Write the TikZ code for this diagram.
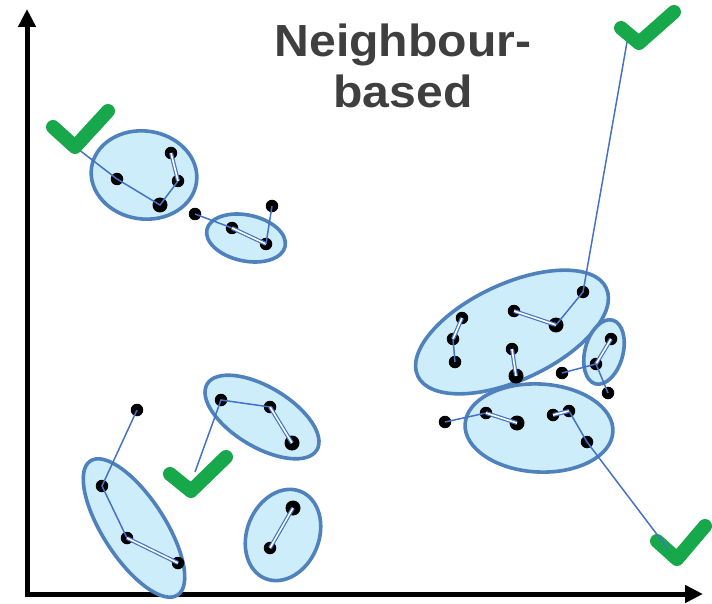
\documentclass[tikz,border=0pt]{standalone}
\usepackage{fontspec}
\setmainfont{Liberation Sans}
\usetikzlibrary{arrows.meta}

\definecolor{clusterfill}{HTML}{CDEDFB}
\definecolor{clusterline}{HTML}{4F81BD}
\definecolor{linkblue}{HTML}{4472C4}
\definecolor{okgreen}{HTML}{16A84A}
\definecolor{titlegray}{HTML}{3F3F3F}

\begin{document}
\begin{tikzpicture}[x=1pt,y=-1pt,
  cluster/.style={draw=clusterline, fill=clusterfill, line width=3.6pt},
  sample/.style={circle, fill=black, inner sep=0pt, minimum size=12.5pt},
  bigsample/.style={sample, minimum size=15pt},
  nbrlink/.style={draw=linkblue, line width=1.5pt},
  pairlink/.style={draw=linkblue, line width=1.2pt, double=white, double distance=1.6pt},
  okmark/.style={draw=okgreen, line width=14pt, line cap=round, line join=round},
  axisline/.style={line width=5pt, line join=miter,
    {Triangle[length=18pt,width=17pt]}-{Triangle[length=18pt,width=17pt]}}]
\useasboundingbox (0,0) rectangle (712,604);

% axes
\coordinate (O) at (27,594);
\coordinate (ytip) at (27,9);
\coordinate (xtip) at (703,594);
\draw[axisline] (ytip) -- (O) -- (xtip);

% title
\node[font=\bfseries\fontsize{45}{51}\selectfont, text=titlegray, align=center,
      xscale=1.07, inner sep=0pt] (title) at (403,66) {Neighbour-\\based};

% clusters
\draw[cluster, rotate around={-8:(144,175)}] (144,175) ellipse [x radius=53pt, y radius=44pt];
\draw[cluster, rotate around={-12:(246,238)}] (246,238) ellipse [x radius=40pt, y radius=23pt];
\draw[cluster, rotate around={25:(512,332)}] (512,332) ellipse [x radius=104pt, y radius=48pt];
\draw[cluster, rotate around={-3:(539,428)}] (539,428) ellipse [x radius=74pt, y radius=44pt];
\draw[cluster, rotate around={-15:(604,352)}] (604,352) ellipse [x radius=19pt, y radius=33pt];
\draw[cluster, rotate around={-57:(134,528)}] (134,528) ellipse [x radius=80pt, y radius=31pt];
\draw[cluster, rotate around={-31:(262,417)}] (262,417) ellipse [x radius=64pt, y radius=30pt];
\draw[cluster, rotate around={-22:(283,535)}] (283,535) ellipse [x radius=36pt, y radius=47pt];

% samples
\node[sample] (A) at (117,179) {};
\node[bigsample] (B) at (160,205) {};
\node[sample] (C) at (178,181) {};
\node[sample] (D) at (171,153) {};

\node[sample] (E) at (195,214) {};
\node[sample] (F) at (232,228) {};
\node[sample] (G) at (266,244) {};
\node[sample] (H) at (272,206) {};

\node[sample] (P1) at (462,318) {};
\node[sample] (P2) at (453,339) {};
\node[sample] (P3) at (455,362) {};
\node[sample] (P4) at (512,349) {};
\node[bigsample] (P5) at (516,376) {};
\node[sample] (P6) at (514,311) {};
\node[bigsample] (P7) at (556,325) {};
\node[sample] (P8) at (583,292) {};

\node[sample] (Q1) at (611,339) {};
\node[sample] (Q2) at (596,364) {};
\node[sample] (Q3) at (562,373) {};
\node[sample] (Q4) at (608,393) {};

\node[sample] (R1) at (445,422) {};
\node[sample] (R2) at (486,413) {};
\node[bigsample] (R3) at (517,423) {};
\node[sample] (R4) at (553,415) {};
\node[sample] (R5) at (569,411) {};
\node[sample] (R6) at (587,442) {};

\node[sample] (S0) at (137,410) {};
\node[sample] (S1) at (102,486) {};
\node[sample] (S2) at (127,538) {};
\node[sample] (S3) at (178,563) {};

\node[sample] (T1) at (221,400) {};
\node[sample] (T2) at (270,407) {};
\node[bigsample] (T3) at (292,443) {};

\node[bigsample] (U1) at (293,508) {};
\node[sample] (U2) at (270,548) {};

% free ends of the links into the check marks
\coordinate (okTLend) at (78,149);
\coordinate (okTRend) at (627,42);
\coordinate (okMend) at (195,472);
\coordinate (okBRend) at (668,549);

% neighbour links
\draw[nbrlink] (okTLend) -- (A.center) -- (B.center) -- (C.center);
\draw[pairlink] (C.center) -- (D.center);

\draw[nbrlink] (E.center) -- (F.center);
\draw[pairlink] (F.center) -- (G.center);
\draw[nbrlink] (G.center) -- (H.center);

\draw[pairlink] (P1.center) -- (P2.center);
\draw[nbrlink] (P2.center) -- (P3.center);
\draw[pairlink] (P4.center) -- (P5.center);
\draw[pairlink] (P6.center) -- (P7.center);
\draw[nbrlink] (P7.center) -- (P8.center) -- (okTRend);

\draw[pairlink] (Q1.center) -- (Q2.center);
\draw[nbrlink] (Q3.center) -- (Q2.center) -- (Q4.center);

\draw[nbrlink] (R1.center) -- (R2.center);
\draw[pairlink] (R2.center) -- (R3.center);
\draw[pairlink] (R4.center) -- (R5.center);
\draw[nbrlink] (R5.center) -- (R6.center);

\draw[nbrlink] (S0.center) -- (S1.center) -- (S2.center);
\draw[pairlink] (S2.center) -- (S3.center);

\draw[nbrlink] (okMend) -- (T1.center) -- (T2.center);
\draw[pairlink] (T2.center) -- (T3.center);

\draw[pairlink] (U1.center) -- (U2.center);

% check marks
\draw[okmark] (53,127) -- (75,147) -- (108,111);
\draw[okmark] (621,28) -- (639,43) -- (674,12);
\draw[okmark] (170,474) -- (191,491) -- (226,457);
\draw[okmark] (657,541) -- (677,559) -- (705,526);

\draw[nbrlink] (R6.center) -- (okBRend);
\end{tikzpicture}
\end{document}
